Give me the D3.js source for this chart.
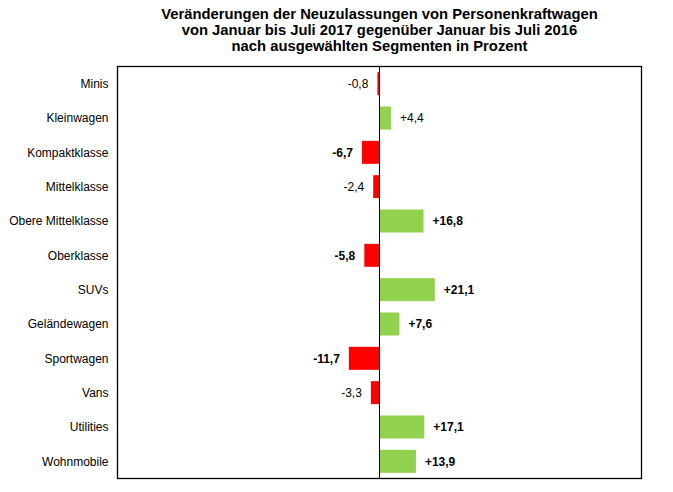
<!DOCTYPE html>
<html>
<head>
<meta charset="utf-8">
<script src="https://cdn.jsdelivr.net/npm/d3@7"></script>
<style>
  body { margin: 0; background: #fff; }
  text { font-family: "Liberation Sans", Arial, sans-serif; fill: #000; }
</style>
</head>
<body>
<svg class="chart" width="673" height="492"></svg>
<script>
// Segmente und Veraenderung in Prozent
var segments = ["Minis", "Kleinwagen", "Kompaktklasse", "Mittelklasse", "Obere Mittelklasse",
  "Oberklasse", "SUVs", "Geländewagen", "Sportwagen", "Vans", "Utilities", "Wohnmobile"];
var changes = [-0.8, 4.4, -6.7, -2.4, 16.8, -5.8, 21.1, 7.6, -11.7, -3.3, 17.1, 13.9];
var titleLines = ["Veränderungen der Neuzulassungen von Personenkraftwagen",
  "von Januar bis Juli 2017 gegenüber Januar bis Juli 2016",
  "nach ausgewählten Segmenten in Prozent"];

var svg = d3.select('.chart');
var plotLeft = 117.5, plotRight = 641.5, plotTop = 66.5, plotBottom = 478.5;

var x = d3.scaleLinear().domain([-100, 100]).range([plotLeft, plotRight]);
var y = d3.scaleBand().domain(segments).range([plotTop, plotBottom]).paddingInner(0.33).paddingOuter(0.165);

var data = segments.map(function (s, i) { return { name: s, value: changes[i] }; });

// titel
svg.selectAll('.title')
  .data(titleLines)
  .enter()
  .append('text')
  .attr('class', 'title')
  .attr('x', (plotLeft + plotRight) / 2)
  .attr('y', function (d, i) { return 19 + i * 16; })
  .attr('text-anchor', 'middle')
  .style('font-weight', 'bold')
  .style('font-size', '14.8px')
  .text(function (d) { return d; });

// bars
svg.selectAll('.bar')
  .data(data)
  .enter()
  .append('rect')
  .attr('class', 'bar')
  .attr('x', function (d) { return Math.min(x(0), x(d.value)); })
  .attr('y', function (d) { return y(d.name); })
  .attr('width', function (d) { return Math.abs(x(d.value) - x(0)); })
  .attr('height', y.bandwidth())
  .attr('fill', function (d) { return d.value < 0 ? '#ff0000' : '#92d050'; });

// value labels (Bindestrich statt Minuszeichen, Komma als Dezimaltrenner)
var fmt = function (v) {
  var s = Math.abs(v).toFixed(1).replace('.', ',');
  return (v > 0 ? '+' : '-') + s;
};
svg.selectAll('.val')
  .data(data)
  .enter()
  .append('text')
  .attr('class', 'val')
  .attr('x', function (d) { return d.value < 0 ? x(d.value) - 9 : x(d.value) + 9; })
  .attr('y', function (d) { return y(d.name) + y.bandwidth() / 2; })
  .attr('dy', '0.36em')
  .attr('text-anchor', function (d) { return d.value < 0 ? 'end' : 'start'; })
  .style('font-size', '12px')
  .style('font-weight', function (d) { return Math.abs(d.value) >= 5 ? 'bold' : 'normal'; })
  .text(function (d) { return fmt(d.value); });

// category labels
svg.selectAll('.cat')
  .data(segments)
  .enter()
  .append('text')
  .attr('class', 'cat')
  .attr('x', plotLeft - 9)
  .attr('y', function (d) { return y(d) + y.bandwidth() / 2; })
  .attr('dy', '0.36em')
  .attr('text-anchor', 'end')
  .style('font-size', '12px')
  .text(function (d) { return d; });

// rahmen und nulllinie
svg.append('rect')
  .attr('x', plotLeft).attr('y', plotTop)
  .attr('width', plotRight - plotLeft).attr('height', plotBottom - plotTop)
  .attr('fill', 'none').attr('stroke', '#000').attr('stroke-width', 1.3);

svg.append('line')
  .attr('x1', x(0)).attr('x2', x(0))
  .attr('y1', plotTop).attr('y2', plotBottom)
  .attr('stroke', '#000').attr('stroke-width', 1);
</script>
</body>
</html>
